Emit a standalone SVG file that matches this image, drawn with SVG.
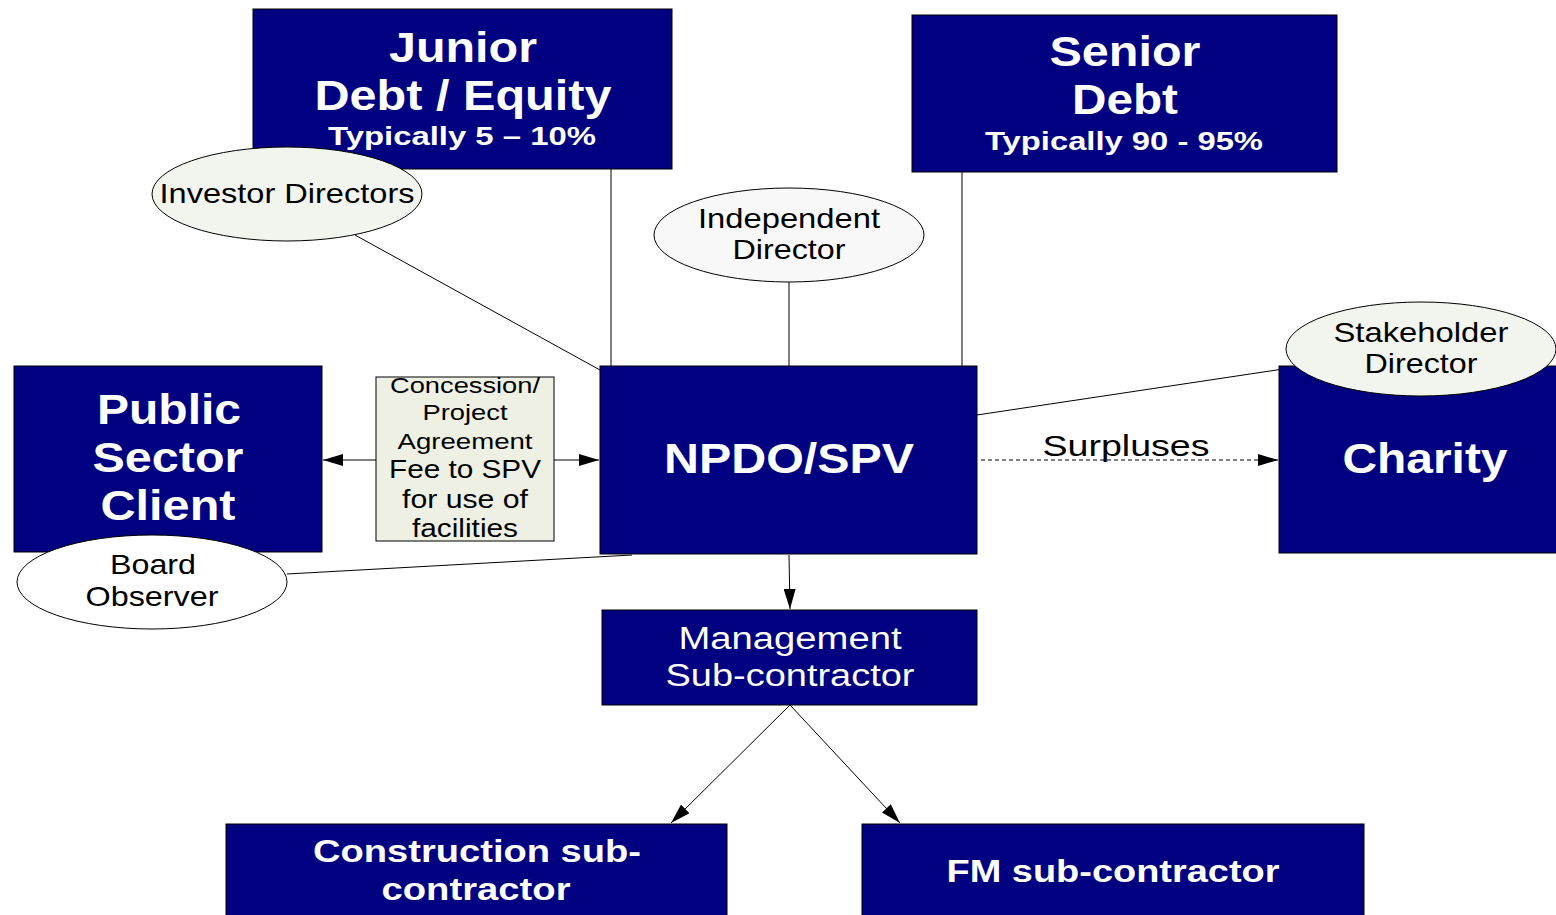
<svg xmlns="http://www.w3.org/2000/svg" width="1556" height="915" viewBox="0 0 1556 915">
<defs>
<style>
.box{fill:#000080;stroke:#000;stroke-width:1}
.wt{fill:#fff;font-family:"Liberation Sans",Arial,sans-serif;text-anchor:middle}
.b{font-weight:bold}
.bt{fill:#000;font-family:"Liberation Sans",Arial,sans-serif;text-anchor:middle}
.ell{stroke:#000;stroke-width:1}
.ln{stroke:#000;stroke-width:1;fill:none}
</style>
<marker id="ah" viewBox="0 0 20 12" refX="20" refY="6" markerWidth="20" markerHeight="12" markerUnits="userSpaceOnUse" orient="auto">
<path d="M0,0 L20,6 L0,12 z" fill="#000"/>
</marker>
</defs>
<rect width="1556" height="915" fill="#fff"/>
<g id="connectors">
<line class="ln" x1="355" y1="235" x2="600" y2="370"/>
<line class="ln" x1="611" y1="169" x2="611" y2="366"/>
<line class="ln" x1="789" y1="282" x2="789" y2="366"/>
<line class="ln" x1="962" y1="162" x2="962" y2="366"/>
<line class="ln" x1="977" y1="415" x2="1290" y2="368"/>
<line class="ln" x1="287" y1="574" x2="632" y2="555"/>
<line class="ln" x1="376" y1="460" x2="323" y2="460" marker-end="url(#ah)"/>
<line class="ln" x1="554" y1="460" x2="599" y2="460" marker-end="url(#ah)"/>
<line class="ln" x1="981" y1="460" x2="1278" y2="460" stroke-dasharray="4,3" marker-end="url(#ah)"/>
<line class="ln" x1="789" y1="555" x2="790" y2="609" marker-end="url(#ah)"/>
<line class="ln" x1="790" y1="705" x2="671" y2="823" marker-end="url(#ah)"/>
<line class="ln" x1="790" y1="705" x2="900" y2="823" marker-end="url(#ah)"/>
</g>
<g id="junior">
<rect class="box" x="253" y="9" width="419" height="160"/>
<text class="wt b" x="463" y="62" font-size="42" textLength="148" lengthAdjust="spacingAndGlyphs">Junior</text>
<text class="wt b" x="463" y="110" font-size="42" textLength="297" lengthAdjust="spacingAndGlyphs">Debt / Equity</text>
<text class="wt b" x="462" y="145" font-size="26" textLength="268" lengthAdjust="spacingAndGlyphs">Typically 5 – 10%</text>
</g>
<g id="senior">
<rect class="box" x="912" y="15" width="425" height="157"/>
<text class="wt b" x="1125" y="66" font-size="42" textLength="151" lengthAdjust="spacingAndGlyphs">Senior</text>
<text class="wt b" x="1125" y="114" font-size="42" textLength="106" lengthAdjust="spacingAndGlyphs">Debt</text>
<text class="wt b" x="1124" y="150" font-size="26" textLength="278" lengthAdjust="spacingAndGlyphs">Typically 90 - 95%</text>
</g>
<g id="public">
<rect class="box" x="14" y="366" width="308" height="186"/>
<text class="wt b" x="169" y="424" font-size="42" textLength="144" lengthAdjust="spacingAndGlyphs">Public</text>
<text class="wt b" x="168" y="472" font-size="42" textLength="151" lengthAdjust="spacingAndGlyphs">Sector</text>
<text class="wt b" x="168" y="520" font-size="42" textLength="135" lengthAdjust="spacingAndGlyphs">Client</text>
</g>
<g id="npdo">
<rect class="box" x="600" y="366" width="377" height="188"/>
<text class="wt b" x="789" y="473" font-size="42" textLength="250" lengthAdjust="spacingAndGlyphs">NPDO/SPV</text>
</g>
<g id="charity">
<rect class="box" x="1279" y="366" width="280" height="187"/>
<text class="wt b" x="1425" y="473" font-size="42" textLength="165" lengthAdjust="spacingAndGlyphs">Charity</text>
</g>
<g id="management">
<rect class="box" x="602" y="610" width="375" height="95"/>
<text class="wt" x="790" y="649" font-size="31" textLength="223" lengthAdjust="spacingAndGlyphs">Management</text>
<text class="wt" x="790" y="686" font-size="31" textLength="249" lengthAdjust="spacingAndGlyphs">Sub-contractor</text>
</g>
<g id="construction">
<rect class="box" x="226" y="824" width="501" height="95"/>
<text class="wt b" x="477" y="862" font-size="32" textLength="328" lengthAdjust="spacingAndGlyphs">Construction sub-</text>
<text class="wt b" x="476" y="900" font-size="32" textLength="189" lengthAdjust="spacingAndGlyphs">contractor</text>
</g>
<g id="fm">
<rect class="box" x="862" y="824" width="502" height="95"/>
<text class="wt b" x="1113" y="882" font-size="32" textLength="333" lengthAdjust="spacingAndGlyphs">FM sub-contractor</text>
</g>
<g id="concession">
<rect x="376" y="377" width="178" height="164" fill="#eef0e4" stroke="#000" stroke-width="1"/>
<text class="bt" x="465" y="393" font-size="22" textLength="150" lengthAdjust="spacingAndGlyphs">Concession/</text>
<text class="bt" x="465" y="420" font-size="22" textLength="85" lengthAdjust="spacingAndGlyphs">Project</text>
<text class="bt" x="465" y="449" font-size="22" textLength="135" lengthAdjust="spacingAndGlyphs">Agreement</text>
<text class="bt" x="465" y="478" font-size="26" textLength="152" lengthAdjust="spacingAndGlyphs">Fee to SPV</text>
<text class="bt" x="465" y="508" font-size="26" textLength="126" lengthAdjust="spacingAndGlyphs">for use of</text>
<text class="bt" x="465" y="537" font-size="26" textLength="106" lengthAdjust="spacingAndGlyphs">facilities</text>
</g>
<g id="investor-directors">
<ellipse class="ell" cx="287" cy="194" rx="135" ry="47" fill="#f2f5ee"/>
<text class="bt" x="287" y="203" font-size="28" textLength="255" lengthAdjust="spacingAndGlyphs">Investor Directors</text>
</g>
<g id="independent-director">
<ellipse class="ell" cx="789" cy="235" rx="135" ry="47" fill="#f8f8f8"/>
<text class="bt" x="789" y="228" font-size="28" textLength="182" lengthAdjust="spacingAndGlyphs">Independent</text>
<text class="bt" x="789" y="259" font-size="28" textLength="113" lengthAdjust="spacingAndGlyphs">Director</text>
</g>
<g id="stakeholder-director">
<ellipse class="ell" cx="1421" cy="349" rx="135" ry="47" fill="#f2f5ee"/>
<text class="bt" x="1421" y="342" font-size="28" textLength="175" lengthAdjust="spacingAndGlyphs">Stakeholder</text>
<text class="bt" x="1421" y="373" font-size="28" textLength="113" lengthAdjust="spacingAndGlyphs">Director</text>
</g>
<g id="board-observer">
<ellipse class="ell" cx="152" cy="582" rx="135" ry="47" fill="#fff"/>
<text class="bt" x="153" y="574" font-size="28" textLength="86" lengthAdjust="spacingAndGlyphs">Board</text>
<text class="bt" x="152" y="606" font-size="28" textLength="133" lengthAdjust="spacingAndGlyphs">Observer</text>
</g>
<g id="surpluses-label">
<text class="bt" x="1126" y="456" font-size="30" textLength="167" lengthAdjust="spacingAndGlyphs">Surpluses</text>
</g>
</svg>
